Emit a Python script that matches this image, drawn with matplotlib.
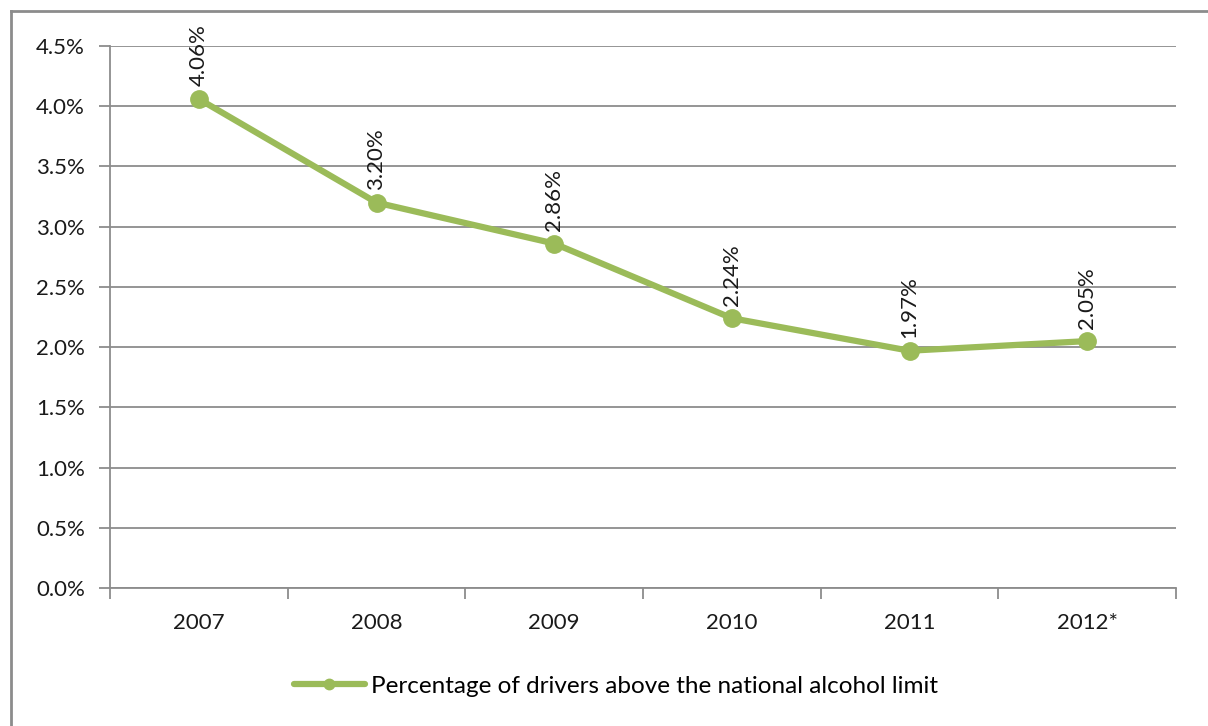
import numpy as np
import matplotlib.pyplot as plt
from matplotlib.lines import Line2D
from matplotlib.ticker import FuncFormatter

years = ['2007', '2008', '2009', '2010', '2011', '2012*']
pct = [4.06, 3.20, 2.86, 2.24, 1.97, 2.05]
series_name = 'Percentage of drivers above the national alcohol limit'

green = '#9BBB59'
grey = '#8C8C8C'
plt.rcParams['font.family'] = ['Lato', 'DejaVu Sans']

fig = plt.figure(figsize=(12.08, 7.26), dpi=100)
ax = fig.add_axes([110 / 1208, 1 - 588 / 726, 1066 / 1208, 542 / 726])

x = np.arange(len(years))
line, = ax.plot(x, pct, color=green, lw=4.5, marker='o', ms=12.5,
                solid_capstyle='round', zorder=3, label=series_name)

for xi, v in zip(x, pct):
    ax.annotate(f'{v:.2f}%', (xi, v), xytext=(0, 9), textcoords='offset points',
                rotation=90, ha='center', va='bottom', fontsize=16,
                color='#1a1a1a', zorder=4)

ax.set_xlim(-0.5, len(years) - 0.5)
ax.set_ylim(0, 4.5)
ax.set_yticks(np.arange(0, 4.51, 0.5))
ax.yaxis.set_major_formatter(FuncFormatter(lambda v, _: f'{v:.1f}%'))
ax.grid(axis='y', color=grey, lw=1.3)
ax.set_axisbelow(True)

# category labels centred, tick marks between categories
ax.set_xticks(np.arange(-0.5, len(years)), labels=[''] * (len(years) + 1))
ax.set_xticks(x, labels=years, minor=True)
ax.tick_params(axis='x', which='major', length=8, color=grey, width=1.3)
ax.tick_params(axis='x', which='minor', length=0, pad=18)
ax.tick_params(axis='y', length=8, color=grey, width=1.3, pad=10)
ax.tick_params(which='both', labelsize=16, labelcolor='#1a1a1a')

for side in ('top', 'right'):
    ax.spines[side].set_visible(False)
for side in ('left', 'bottom'):
    ax.spines[side].set_color(grey)
    ax.spines[side].set_linewidth(1.3)

fig.legend(handles=[line], loc='center', bbox_to_anchor=(616 / 1208, 1 - 686 / 726),
           frameon=False, fontsize=17.5, handlelength=2.9, handletextpad=0.25,
           markerscale=0.6)

# outer chart frame (left and top edges)
fig.add_artist(Line2D([11 / 1208, 11 / 1208], [0, 1 - 11 / 726],
                      transform=fig.transFigure, color=grey, lw=2))
fig.add_artist(Line2D([11 / 1208, 1], [1 - 11 / 726, 1 - 11 / 726],
                      transform=fig.transFigure, color=grey, lw=2))

fig.savefig('out.png', dpi=100, facecolor='white')
